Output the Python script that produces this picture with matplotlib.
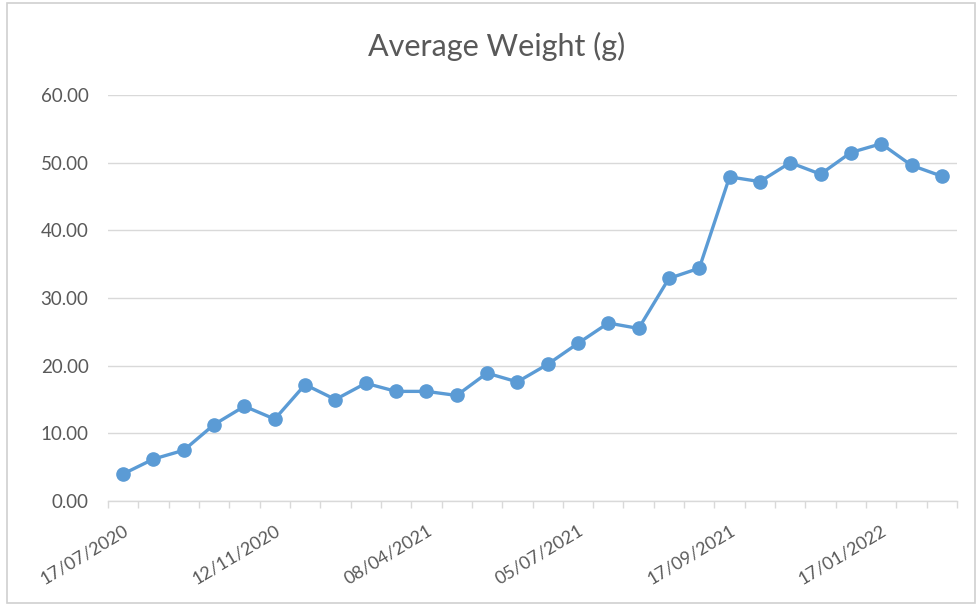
import matplotlib.pyplot as plt
import numpy as np
from matplotlib.patches import Rectangle

# 数据：平均体重（g），共 28 次采样
weights = [4.0, 6.2, 7.5, 11.3, 14.0, 12.1, 17.2, 15.0, 17.4, 16.2,
           16.2, 15.6, 18.9, 17.6, 20.2, 23.3, 26.3, 25.5, 32.9, 34.4,
           47.9, 47.2, 50.0, 48.3, 51.5, 52.8, 49.6, 48.0]
# 只有每隔 5 个的日期标签可见
date_labels = ['17/07/2020', '12/11/2020', '08/04/2021',
               '05/07/2021', '17/09/2021', '17/01/2022']
y_ticks = [0, 10, 20, 30, 40, 50, 60]

plt.rcParams['font.family'] = ['Lato', 'DejaVu Sans']
text_grey = '#595959'
line_blue = '#5B9BD5'
grid_grey = '#D9D9D9'

fig = plt.figure(figsize=(9.77, 6.05), dpi=100)
ax = fig.add_axes([108 / 977, 1 - 501 / 605, (957 - 108) / 977, (501 - 95) / 605])

x = np.arange(len(weights))
ax.plot(x, weights, color=line_blue, linewidth=2.4, marker='o',
        markersize=9.5, zorder=3)

ax.set_xlim(-0.5, len(weights) - 0.5)
ax.set_ylim(0, 60)
ax.set_yticks(y_ticks)
ax.set_yticklabels([f'{v:.2f}' for v in y_ticks])
ax.grid(axis='y', color=grid_grey, linewidth=1.0)
ax.set_axisbelow(True)

# x 轴：主刻度只放标签，次刻度在类别边界
ax.set_xticks(x[::5])
ax.set_xticklabels(date_labels, rotation=31, ha='right', rotation_mode='anchor')
ax.set_xticks(np.arange(-0.5, len(weights), 1), minor=True)
ax.tick_params(axis='x', which='major', length=0, pad=15, labelsize=13,
               colors=text_grey)
ax.tick_params(axis='x', which='minor', length=5, width=1, color=grid_grey)
ax.tick_params(axis='y', length=0, pad=14, labelsize=13.5, colors=text_grey)

for side in ['top', 'right', 'left']:
    ax.spines[side].set_visible(False)
ax.spines['bottom'].set_color(grid_grey)
ax.spines['bottom'].set_linewidth(1.0)

fig.text(497 / 977, 1 - 46 / 605, 'Average Weight (g)', ha='center', va='center',
         fontsize=22, color=text_grey)

# 图表外边框
fig.patches.append(Rectangle((7 / 977, 1 - 603 / 605), 968 / 977, 600 / 605,
                             transform=fig.transFigure, fill=False,
                             edgecolor='#D0D0D0', linewidth=1.2))

fig.savefig('out.png', dpi=100, facecolor='white')
